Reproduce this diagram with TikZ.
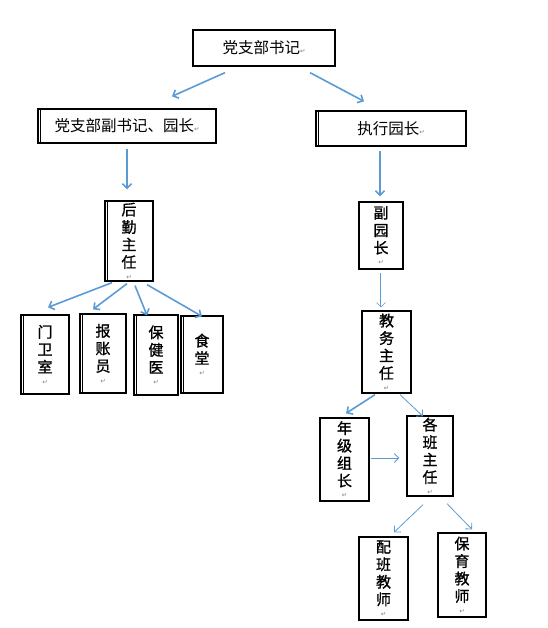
\documentclass[tikz,border=0pt]{standalone}
\usepackage{fontspec}
\newfontfamily\cjk{Noto Sans CJK SC}
\newfontfamily\cjkbold[FakeBold=1.1]{Noto Sans CJK SC}
\newfontfamily\markfont{DejaVu Sans}
\usetikzlibrary{arrows.meta}
\definecolor{linkblue}{HTML}{5B9BD5}
\newcommand\pmark{{\markfont\fontsize{6.5}{6.5}\selectfont\color{gray}↵}}

\begin{document}
\begin{tikzpicture}[x=1pt, y=-1pt,
    hbox/.style={rectangle, draw=black, line width=1.3pt, fill=white,
        inner sep=0pt, font=\cjk\fontsize{15.5}{18}\selectfont},
    vbox/.style={rectangle, draw=black, line width=1.3pt, fill=white,
        inner sep=0pt, align=center, font=\cjkbold\fontsize{15}{17.5}\selectfont},
    dbl/.style={append after command={
        ([xshift=2.5pt]\tikzlastnode.north west) edge[draw=black, line width=0.6pt, -]
        ([xshift=2.5pt]\tikzlastnode.south west)}},
    edge/.style={draw=linkblue, line width=1.6pt, -{Straight Barb[length=4.5pt, width=9pt]}},
    thinedge/.style={draw=linkblue, line width=0.8pt, -{Straight Barb[length=4.5pt, width=9pt]}}
]
    \useasboundingbox (0,0) rectangle (547,628);

    \node[hbox, minimum width=142pt, minimum height=36pt] (sec) at (264,48) {党支部书记\pmark};
    \node[hbox, dbl, minimum width=178pt, minimum height=34pt] (vsec) at (127,126) {党支部副书记、园长\pmark};
    \node[hbox, dbl, minimum width=150pt, minimum height=35pt] (exec) at (391,128.5) {执行园长\pmark};

    \node[vbox, dbl, minimum width=48pt, minimum height=80pt] (hq) at (129,241) {后\\勤\\主\\任\\[-6pt]\pmark};
    \node[vbox, dbl, minimum width=48pt, minimum height=79pt] (gate) at (45,354.5) {门\\卫\\室\\[-6pt]\pmark};
    \node[vbox, dbl, minimum width=46pt, minimum height=79pt] (acct) at (103,353.5) {报\\账\\员\\[-6pt]\pmark};
    \node[vbox, dbl, minimum width=44pt, minimum height=80pt] (clinic) at (156,355) {保\\健\\医\\[-6pt]\pmark};
    \node[vbox, dbl, minimum width=42pt, minimum height=77pt] (canteen) at (202,354.5) {食\\堂\\[-6pt]\pmark};

    \node[vbox, minimum width=44pt, minimum height=67pt] (vp) at (381,235.5) {副\\园\\长\\[-6pt]\pmark};
    \node[vbox, minimum width=49pt, minimum height=82pt] (dean) at (386.5,352) {教\\务\\主\\任\\[-6pt]\pmark};
    \node[vbox, minimum width=49pt, minimum height=83pt] (grade) at (344.5,459.5) {年\\级\\组\\长\\[-6pt]\pmark};
    \node[vbox, minimum width=46pt, minimum height=80pt] (cls) at (430,456) {各\\班\\主\\任\\[-6pt]\pmark};
    \node[vbox, minimum width=49pt, minimum height=83pt] (asst) at (383.5,578.5) {配\\班\\教\\师\\[-6pt]\pmark};
    \node[vbox, minimum width=48pt, minimum height=84pt] (nurse) at (462,575) {保\\育\\教\\师\\[-6pt]\pmark};

    \draw[edge] ([xshift=-39pt, yshift=-6pt]sec.south) -- ([xshift=45pt, yshift=12pt]vsec.north);
    \draw[edge] ([xshift=46pt, yshift=-6pt]sec.south) -- ([xshift=-27pt, yshift=9pt]exec.north);
    \draw[edge] ([yshift=-5pt]vsec.south) -- ([xshift=-2pt, yshift=11pt]hq.north);
    \draw[edge] ([xshift=-11pt, yshift=-4pt]exec.south) -- ([xshift=-1pt, yshift=5pt]vp.north);
    \draw[edge] ([xshift=-17pt, yshift=-1pt]hq.south) -- ([xshift=3pt, yshift=7pt]gate.north);
    \draw[edge] ([xshift=-2pt, yshift=-2pt]hq.south) -- ([xshift=-10pt, yshift=4pt]acct.north);
    \draw[edge] ([xshift=6pt, yshift=-4pt]hq.south) -- ([xshift=-9pt, yshift=-1pt]clinic.north);
    \draw[edge] ([xshift=18pt, yshift=-3pt]hq.south) -- ([yshift=-1pt]canteen.north);
    \draw[thinedge, double=white, double distance=0.6pt, line width=0.5pt] ([yshift=-3pt]vp.south) -- ([xshift=-5.5pt, yshift=3pt]dean.north);
    \draw[edge] ([xshift=-11.5pt, yshift=-1pt]dean.south) -- ([xshift=1.5pt, yshift=4pt]grade.north);
    \draw[thinedge] ([xshift=13.5pt, yshift=-1pt]dean.south) -- ([xshift=-7pt, yshift=-1pt]cls.north);
    \draw[thinedge] ([xshift=1pt, yshift=1.5pt]grade.east) -- ([xshift=-7pt, yshift=-2pt]cls.west);
    \draw[thinedge] ([xshift=-7pt, yshift=-8pt]cls.south) -- ([xshift=10.5pt, yshift=4pt]asst.north);
    \draw[thinedge] ([xshift=17pt, yshift=-7pt]cls.south) -- ([xshift=10pt, yshift=3pt]nurse.north);
\end{tikzpicture}
\end{document}
